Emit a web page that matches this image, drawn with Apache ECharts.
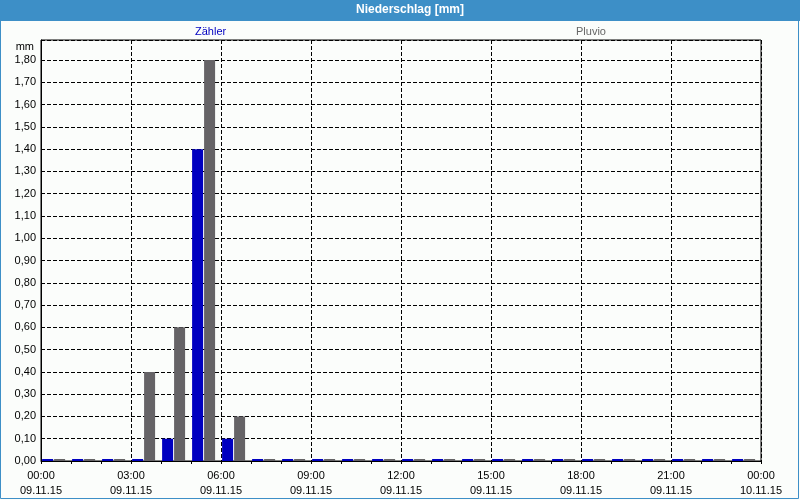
<!DOCTYPE html>
<html>
<head>
<meta charset="utf-8">
<script src="https://cdn.jsdelivr.net/npm/echarts@6/dist/echarts.min.js"></script>
<style>
html,body{margin:0;padding:0;background:#fbfdfb;}
#c{width:800px;height:500px;}
</style>
</head>
<body>
<div id="c"></div>
<script>
const titleText = 'Niederschlag [mm]';
const seriesNames = ['Zähler', 'Pluvio'];
const hourIndex = [0,1,2,3,4,5,6,7,8,9,10,11,12,13,14,15,16,17,18,19,20,21,22,23];
const zaehler = [0,0,0,0,0.1,1.4,0.1,0,0,0,0,0,0,0,0,0,0,0,0,0,0,0,0,0];
const pluvio  = [0,0,0,0.4,0.6,1.8,0.2,0,0,0,0,0,0,0,0,0,0,0,0,0,0,0,0,0];
const tickTimes = ['00:00','03:00','06:00','09:00','12:00','15:00','18:00','21:00','00:00'];
const tickDates = ['09.11.15','09.11.15','09.11.15','09.11.15','09.11.15','09.11.15','09.11.15','09.11.15','10.11.15'];
const yUnit = 'mm';

const FONT = 'Liberation Sans';
const chart = echarts.init(document.getElementById('c'));
const toData = arr => hourIndex.map((h, i) => [h + 0.42, arr[i]]);

chart.setOption({
  animation: false,
  backgroundColor: '#fbfdfb',
  title: {
    text: titleText,
    left: 356,
    top: 3,
    padding: 0,
    textStyle: {color: '#ffffff', fontWeight: 'bold', fontSize: 12, fontFamily: FONT, lineHeight: 14}
  },
  graphic: [
    {type: 'rect', shape: {x: 0, y: 0, width: 800, height: 21}, style: {fill: '#3d8fc7'}, z: -10},
    {type: 'rect', shape: {x: 0.5, y: 0.5, width: 798, height: 498}, style: {fill: null, stroke: '#3d8fc7', lineWidth: 1}, z: -10},
    {type: 'text', right: 766, top: 41, style: {text: yUnit, fill: '#000', font: '11px ' + FONT, textAlign: 'right'}}
  ],
  legend: [
    {data: [{name: seriesNames[0]}], left: 190, top: 26, icon: 'none', itemWidth: 0, itemHeight: 0, padding: 0,
     textStyle: {color: '#0000c0', fontSize: 11, fontFamily: FONT}, selectedMode: false},
    {data: [{name: seriesNames[1]}], left: 571, top: 26, icon: 'none', itemWidth: 0, itemHeight: 0, padding: 0,
     textStyle: {color: '#666666', fontSize: 11, fontFamily: FONT}, selectedMode: false}
  ],
  grid: {left: 41, right: 39, top: 40, bottom: 39, show: true, borderColor: '#000', borderWidth: 1, backgroundColor: 'transparent'},
  xAxis: {
    type: 'value', min: 0, max: 24, interval: 3,
    axisLine: {lineStyle: {color: '#000', width: 1}},
    axisTick: {show: true, length: 3, lineStyle: {color: '#000'}},
    minorTick: {show: true, splitNumber: 3, length: 3, lineStyle: {color: '#000'}},
    splitLine: {show: true, lineStyle: {color: '#000', type: [4, 2], width: 1}},
    axisLabel: {
      margin: 7, color: '#000', fontSize: 11, fontFamily: FONT, lineHeight: 15,
      formatter: v => { const i = Math.round(v / 3); return tickTimes[i] + '\n' + tickDates[i]; }
    }
  },
  yAxis: {
    type: 'value', min: 0, max: 1.89, interval: 0.1,
    axisLine: {show: true, lineStyle: {color: '#000', width: 1}},
    axisTick: {show: false},
    splitLine: {show: true, lineStyle: {color: '#000', type: [4, 2], width: 1}},
    axisLabel: {
      margin: 5, color: '#000', fontSize: 11, fontFamily: FONT, showMaxLabel: false,
      formatter: v => v > 1.85 ? '' : v.toFixed(2).replace('.', ',')
    }
  },
  series: [
    {name: seriesNames[0], type: 'bar', data: toData(zaehler), barWidth: 11, barGap: '9%', barMinHeight: 2,
     itemStyle: {color: '#0000c0'}},
    {name: seriesNames[1], type: 'bar', data: toData(pluvio), barWidth: 11, barGap: '9%', barMinHeight: 2,
     itemStyle: {color: '#656366'}}
  ]
});
</script>
</body>
</html>
